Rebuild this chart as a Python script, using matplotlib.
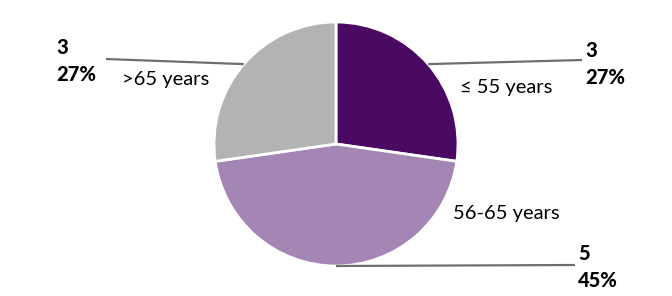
import numpy as np
import matplotlib
matplotlib.use('Agg')
import matplotlib.pyplot as plt

# 연령대별 인원
labels = ['\u2264 55 years', '56-65 years', '>65 years']
counts = [3, 5, 3]
colors = ['#4a0a64', '#a386b4', '#b3b3b3']

plt.rcParams['font.family'] = ['Lato', 'DejaVu Sans']

fig = plt.figure(figsize=(6.72, 2.96), dpi=100)
ax = fig.add_axes([0, 0, 1, 1])

cx, cy, r = 336, 152, 122
wedges, _ = ax.pie(counts, colors=colors, startangle=90, counterclock=False,
                   center=(cx, cy), radius=r, frame=True,
                   wedgeprops=dict(edgecolor='white', linewidth=2))
ax.set_xlim(0, 672)
ax.set_ylim(0, 296)
ax.axis('off')

total = sum(counts)
# 라벨 배치: (리더선 끝 x, y, 값 텍스트 x, y, 이름 x, y)
layout = [
    (582, 236, 585, 232, 460, 208),
    (575, 31, 578, 29, 453, 83),
    (106, 237, 56, 235, 122, 216),
]
for w, n, lab, (lx, ly, vx, vy, nx, ny) in zip(wedges, counts, labels, layout):
    ang = np.deg2rad((w.theta1 + w.theta2) / 2)
    sx, sy = cx + r * np.cos(ang), cy + r * np.sin(ang)
    ax.plot([sx, lx], [sy, ly], color='#6e6e6e', lw=1.6, solid_capstyle='butt')
    ax.text(vx, vy, f'{n}\n{n / total:.0%}', fontsize=14.5, fontweight='black',
            ha='left', va='center', linespacing=1.5)
    ax.text(nx, ny, lab, fontsize=14.5, ha='left', va='center')

fig.savefig('out.png', dpi=100, facecolor='white')
